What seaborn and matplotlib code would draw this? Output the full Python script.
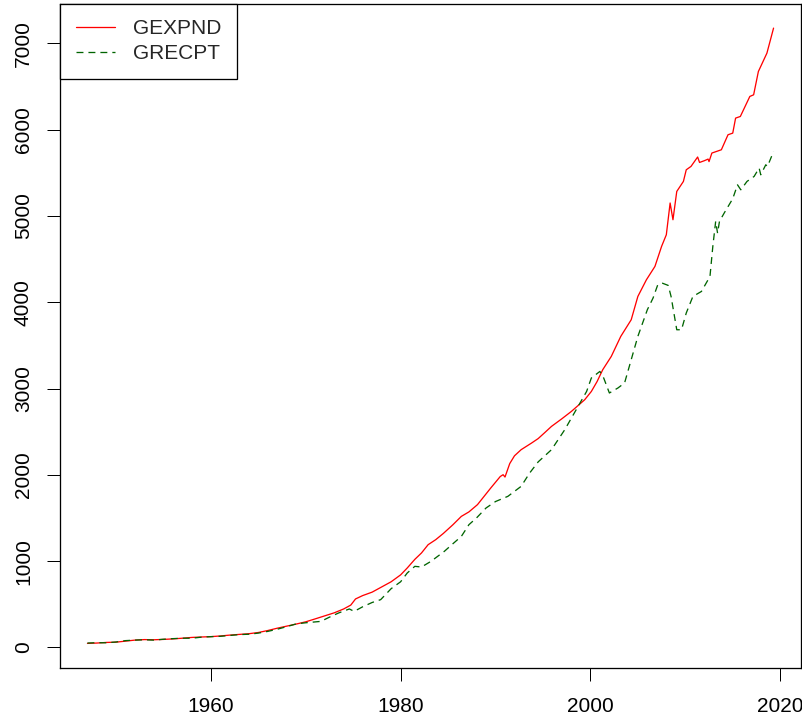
import matplotlib
matplotlib.use("Agg")
import matplotlib.pyplot as plt
import seaborn as sns
import numpy as np
import pandas as pd

# ---- data (billions) ----
gexpnd_time = [1947.0, 1948.0, 1949.0, 1950.0, 1951.0, 1952.0, 1953.0, 1954.0, 1955.0, 1956.0,
               1957.0, 1958.0, 1959.0, 1960.0, 1961.0, 1962.0, 1963.0, 1964.0, 1965.0, 1966.0,
               1967.0, 1968.0, 1969.0, 1970.0, 1971.0, 1972.0, 1973.0, 1974.0, 1974.75, 1975.25,
               1976.0, 1977.0, 1978.0, 1979.0, 1980.0, 1980.7, 1981.5, 1982.2, 1982.9, 1983.7,
               1984.5, 1985.5, 1986.4, 1987.2, 1988.1, 1989.5, 1990.5, 1990.8, 1991.0, 1991.5,
               1992.0, 1992.7, 1993.8, 1994.5, 1995.2, 1995.9, 1997.0, 1998.0, 1999.4, 2000.1,
               2000.7, 2001.3, 2002.2, 2003.2, 2004.3, 2005.0, 2005.9, 2006.8, 2007.5, 2008.0,
               2008.4, 2008.7, 2009.1, 2009.8, 2010.1, 2010.6, 2011.3, 2011.5, 2012.0, 2012.4,
               2012.5, 2012.8, 2013.8, 2014.5, 2015.0, 2015.3, 2015.8, 2016.8, 2017.2, 2017.7,
               2018.6, 2019.3]
gexpnd = [46, 50, 57, 60, 72, 84, 90, 88, 92, 98,
          106, 115, 120, 124, 132, 142, 150, 158, 172, 195,
          222, 246, 270, 296, 330, 365, 400, 445, 490, 561,
          600, 640, 700, 760, 840, 920, 1020, 1094, 1190, 1248,
          1320, 1420, 1518, 1570, 1654, 1847, 1980, 2001, 1974, 2130,
          2220, 2291, 2368, 2420, 2490, 2561, 2650, 2735, 2870, 2966,
          3080, 3218, 3372, 3604, 3797, 4067, 4260, 4415, 4647, 4782,
          5150, 4956, 5284, 5400, 5535, 5574, 5683, 5620, 5640, 5659,
          5630, 5729, 5767, 5941, 5960, 6134, 6153, 6385, 6404, 6674,
          6887, 7177]

grecpt_time = [1947.0, 1948.0, 1949.0, 1950.0, 1951.0, 1952.0, 1953.0, 1954.0, 1955.0, 1956.0,
               1957.0, 1958.0, 1959.0, 1960.0, 1961.0, 1962.0, 1963.0, 1964.0, 1965.0, 1966.0,
               1967.0, 1968.0, 1969.0, 1970.0, 1971.0, 1971.6, 1972.5, 1973.5, 1974.6, 1975.1,
               1976.0, 1977.0, 1977.9, 1979.0, 1980.0, 1980.7, 1981.5, 1982.2, 1983.2, 1984.6,
               1985.5, 1986.4, 1987.2, 1988.0, 1989.0, 1990.0, 1991.3, 1992.7, 1993.6, 1994.5,
               1995.9, 1997.3, 1998.5, 1999.6, 2000.1, 2001.0, 2001.4, 2002.0, 2002.9, 2003.6,
               2004.3, 2005.0, 2006.0, 2006.6, 2007.1, 2007.6, 2008.2, 2008.5, 2009.1, 2009.6,
               2010.1, 2010.8, 2011.7, 2012.6, 2012.9, 2013.2, 2013.4, 2013.6, 2014.1, 2015.0,
               2015.5, 2015.85, 2016.5, 2017.25, 2017.78, 2017.95, 2018.48, 2018.66, 2019.3]
grecpt = [50, 54, 53, 62, 78, 84, 88, 84, 94, 101,
          106, 106, 118, 124, 128, 138, 148, 152, 165, 185,
          210, 240, 272, 285, 295, 301, 350, 400, 445, 417,
          470, 520, 553, 680, 760, 862, 939, 931, 997, 1112,
          1200, 1286, 1422, 1500, 1615, 1690, 1750, 1866, 2021, 2150,
          2291, 2523, 2754, 2966, 3122, 3198, 3122, 2948, 3006, 3064,
          3334, 3604, 3913, 4048, 4203, 4220, 4195, 4067, 3681, 3681,
          3875, 4067, 4125, 4299, 4647, 4937, 4800, 4937, 5034, 5200,
          5361, 5303, 5400, 5458, 5555, 5477, 5593, 5574, 5747]

series_names = ["GEXPND", "GRECPT"]
x_ticks = [1960, 1980, 2000, 2020]
y_ticks = [0, 1000, 2000, 3000, 4000, 5000, 6000, 7000]

# ---- styling ----
sns.set_style("white")
plt.rcParams['font.family'] = ['Liberation Sans', 'DejaVu Sans']
plt.rcParams['lines.scale_dashes'] = False

W, H = 803, 721
fig = plt.figure(figsize=(W / 100, H / 100), dpi=100)
ax = fig.add_axes([60 / W, 1 - 668 / H, (801 - 60) / W, (668 - 3.5) / H])

px = 0.72  # one pixel in points
sns.lineplot(x=gexpnd_time, y=gexpnd, color="#FF0000", linewidth=1.3 * px,
             label=series_names[0], ax=ax, sort=False)
sns.lineplot(x=grecpt_time, y=grecpt, color="#006400", linewidth=1.3 * px,
             linestyle=(0, (5.0, 3.6)), label=series_names[1], ax=ax, sort=False)

# R-style limits: data range padded by 4%
allx = np.array(gexpnd_time + grecpt_time)
ally = np.array(gexpnd + grecpt)
xr = allx.max() - allx.min()
yr = ally.max() - ally.min()
ax.set_xlim(allx.min() - 0.04 * xr, allx.max() + 0.04 * xr)
ax.set_ylim(ally.min() - 0.04 * yr, ally.max() + 0.04 * yr)

ax.set_xticks(x_ticks)
ax.set_xticklabels([str(v) for v in x_ticks])
ax.set_yticks(y_ticks)
ax.set_yticklabels([str(v) for v in y_ticks], rotation=90, va="center")
ax.tick_params(axis="both", direction="out", length=13 * px, width=1.0 * px,
               color="black", labelsize=15, labelcolor="black", pad=14 * px,
               bottom=True, left=True)
ax.tick_params(axis="x", pad=16 * px)
for s in ax.spines.values():
    s.set_visible(True)
    s.set_color("black")
    s.set_linewidth(1.3 * px)
ax.set_xlabel("")
ax.set_ylabel("")
ax.grid(False)

leg = ax.legend(loc="upper left", bbox_to_anchor=(0, 1), borderaxespad=0,
                fontsize=15, frameon=True, fancybox=False, framealpha=1,
                edgecolor="black", handlelength=1.9, handletextpad=0.85,
                borderpad=0.75, labelspacing=0.3)
leg.get_frame().set_linewidth(1.3 * px)

fig.savefig("out.png", dpi=100)
